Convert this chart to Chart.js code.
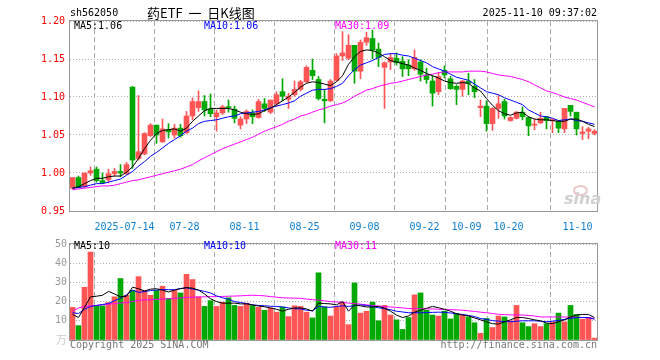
<!DOCTYPE html>
<html>
<head>
<meta charset="utf-8">
<script src="https://cdn.jsdelivr.net/npm/chart.js@4.4.1/dist/chart.umd.min.js"></script>
<style>
  body { margin:0; background:#fff; }
  #wrap { position:relative; width:660px; height:360px; overflow:hidden; background:#fff; }
  canvas { position:absolute; left:0; }
  .t { position:absolute; font-family:"DejaVu Sans Mono", monospace; font-size:10px; line-height:12px; white-space:pre; }
</style>
</head>
<body>
<div id="wrap">
  <canvas id="k" width="660" height="235" style="top:0"></canvas>
  <canvas id="v" width="660" height="125" style="top:235px"></canvas>
  <div class="t" style="left:70px;top:7px;color:#000;">sh562050</div>
  <div class="t" style="left:147px;top:4px;color:#000;font-family:'Noto Sans CJK SC',sans-serif;font-size:13px;line-height:17px;">药ETF  一  日K线图</div>
  <div class="t" style="right:63px;top:7px;color:#000;">2025-11-10 09:37:02</div>
  <div class="t" id="lk5" style="left:74px;top:20px;color:#000;"></div>
  <div class="t" id="lk10" style="left:204px;top:20px;color:#0000ff;"></div>
  <div class="t" id="lk30" style="left:335px;top:20px;color:#ff00ff;"></div>
  <div class="t" style="left:74px;top:240px;color:#000;">MA5:10</div>
  <div class="t" style="left:204px;top:240px;color:#0000ff;">MA10:10</div>
  <div class="t" style="left:335px;top:240px;color:#ff00ff;">MA30:11</div>
  <div class="t" style="left:70px;top:339px;color:#777;">Copyright 2025 SINA.COM</div>
  <div class="t" style="right:63px;top:339px;color:#777;">http://finance.sina.com.cn</div>
  <div style="position:absolute;left:573px;top:185px;width:11px;height:7px;border:2px solid #ecc8c8;border-radius:50%;"></div>
  <div class="t" style="left:564px;top:190px;color:#d0d0d0;font-family:'DejaVu Sans',sans-serif;font-size:16px;line-height:18px;font-style:italic;font-weight:bold;">sina</div>
</div>
<script>
const open  = [0.980,0.994,0.982,1.000,1.005,0.990,0.991,0.999,1.002,0.999,1.113,1.019,1.025,1.049,1.063,1.041,1.057,1.050,1.059,1.053,1.075,1.086,1.094,1.084,1.074,1.079,1.087,1.084,1.063,1.071,1.079,1.073,1.091,1.080,1.091,1.107,1.097,1.103,1.110,1.120,1.135,1.123,1.097,1.095,1.122,1.154,1.151,1.168,1.134,1.172,1.177,1.163,1.139,1.146,1.151,1.147,1.142,1.137,1.146,1.129,1.121,1.107,1.135,1.124,1.114,1.110,1.121,1.114,1.086,1.088,1.065,1.085,1.094,1.069,1.072,1.080,1.073,1.063,1.066,1.074,1.069,1.068,1.058,1.089,1.080,1.052,1.055,1.052];
const high  = [0.994,0.996,1.000,1.008,1.008,1.000,1.005,1.006,1.011,1.014,1.114,1.102,1.053,1.065,1.063,1.071,1.065,1.064,1.064,1.081,1.099,1.108,1.102,1.104,1.083,1.089,1.096,1.088,1.074,1.083,1.083,1.097,1.098,1.096,1.107,1.124,1.105,1.121,1.122,1.141,1.150,1.127,1.110,1.123,1.157,1.186,1.182,1.168,1.175,1.185,1.188,1.171,1.146,1.157,1.158,1.153,1.149,1.162,1.149,1.138,1.128,1.132,1.141,1.127,1.116,1.122,1.131,1.123,1.096,1.095,1.086,1.102,1.097,1.074,1.081,1.087,1.074,1.071,1.080,1.074,1.071,1.069,1.085,1.089,1.080,1.061,1.060,1.057];
const low   = [0.979,0.980,0.981,0.997,0.988,0.986,0.987,0.996,0.995,0.998,1.006,1.017,1.024,1.048,1.039,1.040,1.046,1.046,1.047,1.052,1.070,1.081,1.075,1.074,1.055,1.077,1.080,1.066,1.058,1.065,1.065,1.072,1.081,1.078,1.088,1.095,1.085,1.101,1.108,1.119,1.123,1.096,1.066,1.094,1.121,1.148,1.149,1.118,1.124,1.168,1.150,1.140,1.085,1.136,1.142,1.127,1.128,1.135,1.121,1.118,1.088,1.103,1.125,1.110,1.090,1.101,1.103,1.099,1.074,1.055,1.056,1.072,1.071,1.068,1.071,1.070,1.049,1.057,1.065,1.058,1.053,1.053,1.053,1.075,1.050,1.044,1.045,1.050];
const close = [0.994,0.981,1.000,1.003,0.990,0.987,0.999,1.002,1.000,1.011,1.017,1.028,1.052,1.063,1.050,1.058,1.054,1.059,1.049,1.075,1.094,1.094,1.083,1.078,1.079,1.087,1.086,1.072,1.071,1.081,1.074,1.094,1.085,1.096,1.103,1.101,1.101,1.110,1.120,1.139,1.128,1.098,1.095,1.121,1.154,1.158,1.168,1.134,1.172,1.178,1.162,1.152,1.145,1.152,1.145,1.137,1.137,1.152,1.130,1.123,1.105,1.127,1.129,1.111,1.110,1.121,1.118,1.107,1.088,1.065,1.085,1.091,1.075,1.073,1.080,1.074,1.062,1.064,1.072,1.069,1.070,1.059,1.085,1.081,1.058,1.054,1.058,1.055];
const ma5   = [0.980,0.982,0.986,0.990,0.993,0.993,0.995,0.996,0.996,1.001,1.008,1.019,1.032,1.043,1.052,1.056,1.057,1.058,1.055,1.059,1.068,1.075,1.082,1.085,1.085,1.085,1.085,1.083,1.080,1.078,1.077,1.078,1.082,1.085,1.090,1.095,1.100,1.106,1.113,1.118,1.120,1.119,1.117,1.115,1.120,1.128,1.143,1.153,1.160,1.162,1.161,1.158,1.153,1.148,1.146,1.144,1.142,1.138,1.135,1.131,1.128,1.125,1.121,1.119,1.118,1.119,1.118,1.112,1.108,1.098,1.089,1.082,1.078,1.076,1.079,1.080,1.074,1.071,1.070,1.070,1.069,1.068,1.068,1.071,1.071,1.068,1.064,1.061];
const ma10  = [0.980,0.981,0.982,0.984,0.986,0.986,0.988,0.990,0.992,0.997,1.002,1.009,1.015,1.022,1.027,1.033,1.039,1.044,1.049,1.055,1.059,1.065,1.068,1.069,1.070,1.072,1.074,1.075,1.078,1.079,1.080,1.081,1.083,1.086,1.088,1.090,1.092,1.095,1.101,1.105,1.109,1.110,1.110,1.111,1.114,1.118,1.128,1.136,1.142,1.145,1.148,1.152,1.156,1.157,1.157,1.155,1.154,1.151,1.148,1.145,1.140,1.137,1.134,1.130,1.126,1.124,1.122,1.117,1.112,1.107,1.105,1.103,1.099,1.096,1.093,1.090,1.083,1.079,1.075,1.074,1.072,1.069,1.070,1.071,1.069,1.068,1.066,1.064];
const ma30  = [0.978,0.979,0.980,0.981,0.982,0.983,0.983,0.984,0.986,0.988,0.990,0.991,0.993,0.995,0.997,0.999,1.001,1.003,1.005,1.008,1.011,1.016,1.020,1.024,1.028,1.032,1.035,1.038,1.041,1.044,1.047,1.051,1.055,1.058,1.061,1.064,1.068,1.071,1.075,1.077,1.080,1.083,1.085,1.088,1.090,1.092,1.096,1.101,1.105,1.109,1.111,1.114,1.116,1.118,1.119,1.121,1.123,1.125,1.127,1.129,1.130,1.132,1.133,1.133,1.133,1.133,1.134,1.134,1.134,1.133,1.131,1.129,1.128,1.127,1.125,1.123,1.120,1.116,1.112,1.108,1.106,1.103,1.100,1.098,1.096,1.093,1.090,1.087];
const volume = [17,7.5,27.5,45.8,17.8,17.8,19.5,22.5,32,23.3,25.8,33,25.8,23.3,25.8,28,21.7,25.8,24.5,34.2,31.5,22.5,17.5,20.5,17.5,19.7,22,18,17.5,19.2,18,17,15.5,16.7,14.5,17.2,12.2,17.8,17.5,14.5,11.5,35,17.2,12.5,17.5,19.7,8,29.7,14,15,19.7,10,18,13,10.5,5.5,11.7,23.5,24.5,15.5,13,12.5,15,11,13.8,13,12,9,3.5,11.2,6.5,12.5,12,10,18,9,7,8.5,7,8.5,9.5,14,9.5,18,13.3,10.8,11.7,1];
const vma5  = [13.3,11.7,17,22.5,22.8,23.3,25.3,24,22.5,22.8,27.5,26.7,25.5,26.5,26.7,26,25,26,26.7,27.3,27,26,24,21.5,20,19.2,19.2,19.2,18.8,18.8,18.3,17.7,17.3,16.7,16,15,16,16.7,16.7,16.2,15,19.2,19,18.8,18.3,20,15,18.3,17.8,17.2,17.2,17.5,16.5,15,13,11.7,12.5,14.5,15.5,16.5,17.5,16.8,16,15,13.7,13,12.5,11.5,10.5,9.5,8.5,8.3,9.5,10.5,11.7,11.7,11.2,10.5,10,8.8,8.5,9.5,10.5,12,13,13.3,13.3,11.7];
const vma10 = [14.2,13.8,16,17.5,18,18.5,19,20.5,21.7,23.5,26,24.8,25.2,25.8,26,26.3,26.2,26.2,26.8,27.2,26.5,26,25.3,24.5,23,22,21.2,20,19.5,19,18.3,18,17.8,17.6,17.5,17.2,16.7,16.3,16.2,15.5,15.3,17.5,17.2,17,17.5,17.8,17.5,17.8,18.3,18,17.5,16.8,16.3,15.8,15,14.6,14.2,14.2,14.2,14.3,14.4,14.5,14.4,14.1,13.6,13.3,12.8,12.2,11.2,10.7,10.1,9.8,9.6,9.5,9.8,10,10,10,9.8,9.5,9.8,10.2,10.8,11.3,11.7,11.7,11.7,10.8];
const vma30 = [15,16.7,17.5,17.8,18,18.3,18.6,19,19.3,19.5,20,20.6,20.9,21,21.2,21.3,21.5,21.7,21.9,22.2,22.3,22.4,22.5,22.6,22.6,22.7,22.8,22.9,23,23.2,23.3,23.2,23,22.6,22.3,22,21.9,21.8,21.7,21.3,21,20.8,20.4,20,19.8,19.6,19.2,19,18.7,18.3,18,17.7,17.4,17.2,17,16.7,16.4,16.3,16.3,16.2,16.2,16,15.9,15.8,15.7,15.5,15.2,14.9,14.5,14.2,13.8,13.4,13.2,13.1,13,13,12.8,12.5,12,12,12,12,12,11.9,11.8,11.7,11.5,11.2];
const xTickIdx = [9,19,29,39,49,59,66,73,87];
const xTickLabels = ['2025-07-14','07-28','08-11','08-25','09-08','09-22','10-09','10-20','11-10'];
const yTicks = [0.95,1.00,1.05,1.10,1.15,1.20];
const vTicks = [0,10,20,30,40,50];

const RED = '#ff5555', GREEN = '#00a800';
const colors = close.map((c,i) => c >= open[i] ? RED : GREEN);
const XMIN = -0.4167, XMAX = XMIN + 527/6;
const MONO = 'DejaVu Sans Mono';

document.getElementById('lk5').textContent = 'MA5:' + ma5[ma5.length-1].toFixed(2);
document.getElementById('lk10').textContent = 'MA10:' + ma10[ma10.length-1].toFixed(2);
document.getElementById('lk30').textContent = 'MA30:' + ma30[ma30.length-1].toFixed(2);

const boxPlugin = {
  id: 'box',
  afterDraw(chart) {
    const a = chart.chartArea, ctx = chart.ctx;
    ctx.save();
    ctx.strokeStyle = '#999';
    ctx.lineWidth = 1;
    ctx.strokeRect(Math.round(a.left) - 0.5, Math.round(a.top) - 0.5, Math.round(a.right - a.left) + 1, Math.round(a.bottom - a.top) + 1);
    ctx.restore();
  }
};

function xScale(showLabels, h) {
  return {
    type: 'linear', min: XMIN, max: XMAX, offset: false,
    afterBuildTicks: s => { s.ticks = xTickIdx.map(i => ({ value: i - 0.33 })); },
    afterFit: s => { s.height = h; },
    ticks: {
      display: showLabels, autoSkip: false, maxRotation: 0, minRotation: 0, padding: 10,
      color: '#1080d0', font: { family: MONO, size: 10 },
      callback: (v, i) => i === xTickLabels.length - 1 ? xTickLabels[i] + '     ' : xTickLabels[i]
    },
    grid: { color: '#aaaaaa', lineWidth: 1, drawTicks: false },
    border: { display: false, dash: [5, 3] }
  };
}
function line(data, color) {
  return { type: 'line', data: data.map((v,i) => ({ x: i, y: v })), borderColor: color, borderWidth: 1,
           pointRadius: 0, tension: 0, fill: false, order: 0 };
}

new Chart(document.getElementById('k'), {
  type: 'bar',
  data: { datasets: [
    line(ma5, '#000000'), line(ma10, '#0000ff'), line(ma30, '#ff00ff'),
    { type: 'bar', data: low.map((l,i) => ({ x: i, y: [l, high[i]] })), backgroundColor: colors,
      barThickness: 1, grouped: false, order: 3 },
    { type: 'bar', data: open.map((o,i) => ({ x: i, y: [Math.min(o, close[i]), Math.max(o, close[i])] })),
      backgroundColor: colors, barThickness: 5, minBarLength: 1, grouped: false, order: 2 }
  ]},
  options: {
    responsive: false, animation: false, devicePixelRatio: 1,
    layout: { padding: { top: 21, right: 63, left: 0, bottom: 0 } },
    plugins: { legend: { display: false }, tooltip: { enabled: false } },
    scales: {
      x: xScale(true, 24),
      y: {
        type: 'linear', min: 0.95, max: 1.20,
        afterBuildTicks: s => { s.ticks = yTicks.map(v => ({ value: v })); },
        afterFit: s => { s.width = 70; },
        ticks: { color: '#ff0000', font: { family: MONO, size: 10 }, padding: 5, callback: v => v.toFixed(2) },
        grid: { color: '#b0b0b0', lineWidth: 1, drawTicks: false },
        border: { display: false, dash: [1, 2] }
      }
    }
  },
  plugins: [boxPlugin]
});

new Chart(document.getElementById('v'), {
  type: 'bar',
  data: { datasets: [
    line(vma5, '#000000'), line(vma10, '#0000ff'), line(vma30, '#ff00ff'),
    { type: 'bar', data: volume.map((v,i) => ({ x: i, y: v })), backgroundColor: colors,
      barThickness: 5, grouped: false, order: 2 }
  ]},
  options: {
    responsive: false, animation: false, devicePixelRatio: 1,
    layout: { padding: { top: 5, right: 63, left: 0, bottom: 0 } },
    plugins: { legend: { display: false }, tooltip: { enabled: false } },
    scales: {
      x: xScale(false, 20),
      y: {
        type: 'linear', min: 0, max: 50,
        afterBuildTicks: s => { s.ticks = vTicks.map(v => ({ value: v })); },
        afterFit: s => { s.width = 70; },
        ticks: { color: c => c.tick && c.tick.value === 0 ? '#cccccc' : '#999999',
                 font: c => (c.tick && c.tick.value === 0) ? { family: 'Noto Sans CJK SC', size: 11 } : { family: MONO, size: 10 },
                 padding: 3, callback: v => v === 0 ? '万' : String(v) },
        grid: { color: '#b0b0b0', lineWidth: 1, drawTicks: false },
        border: { display: false, dash: [1, 2] }
      }
    }
  },
  plugins: [boxPlugin]
});
</script>
</body>
</html>
